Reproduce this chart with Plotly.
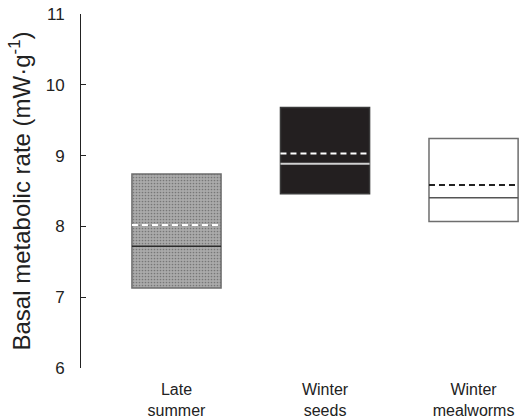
import plotly.graph_objects as go

categories = ["Late<br>summer", "Winter<br>seeds", "Winter<br>mealworms"]
box_low = [7.13, 8.46, 8.07]
box_high = [8.74, 9.68, 9.24]
means = [8.02, 9.03, 8.585]
medians = [7.72, 8.885, 8.405]
y_ticks = [6, 7, 8, 9, 10, 11]

FONT = "Liberation Sans, Arial, sans-serif"
half = 0.3
xs = list(range(len(categories)))

fig = go.Figure()
fig.add_trace(go.Bar(
    x=xs,
    y=[h - l for h, l in zip(box_high, box_low)],
    base=box_low,
    width=2 * half,
    marker=dict(
        color=["#aaaaaa", "#231f20", "#ffffff"],
        line=dict(color=["#6e6e6e", "#3a3a3a", "#6e6e6e"], width=1.5),
        pattern=dict(shape=[".", "", ""], fgcolor="#909090",
                     size=3, solidity=0.25, fillmode="overlay"),
    ),
    showlegend=False,
    hoverinfo="skip",
))

median_colors = ["#2a2a2a", "#d0d0d0", "#555555"]
mean_colors = ["#ffffff", "#ffffff", "#222222"]
for i in xs:
    fig.add_trace(go.Scatter(
        x=[i - half, i + half], y=[medians[i], medians[i]], mode="lines",
        line=dict(color=median_colors[i], width=1.5 if i != 1 else 2),
        showlegend=False, hoverinfo="skip"))
    fig.add_trace(go.Scatter(
        x=[i - half, i + half], y=[means[i], means[i]], mode="lines",
        line=dict(color=mean_colors[i], width=2, dash="6px,4px"),
        showlegend=False, hoverinfo="skip"))

fig.update_layout(
    width=519, height=420,
    margin=dict(l=81, r=0, t=14, b=52),
    paper_bgcolor="white", plot_bgcolor="white",
    font=dict(family=FONT, color="#222222"),
    bargap=0,
)
fig.update_xaxes(
    range=[-0.643, 2.306], tickvals=xs, ticktext=categories,
    showline=False, showgrid=False, zeroline=False, ticks="",
    tickfont=dict(size=16), ticklabelstandoff=10, automargin=False,
)
fig.update_yaxes(
    range=[6, 11], tickvals=y_ticks,
    showline=True, linecolor="#222222", linewidth=1,
    ticks="inside", ticklen=5, tickcolor="#222222",
    showgrid=False, zeroline=False, automargin=False,
    tickfont=dict(size=17), ticklabelstandoff=12,
    title=dict(text="Basal metabolic rate (mW·g<sup>-1</sup>)", font=dict(size=24), standoff=8),
)
fig.write_html("out.html", config={"displayModeBar": False, "staticPlot": True},
               post_script="document.body.style.margin='0';document.body.style.overflow='hidden';")
